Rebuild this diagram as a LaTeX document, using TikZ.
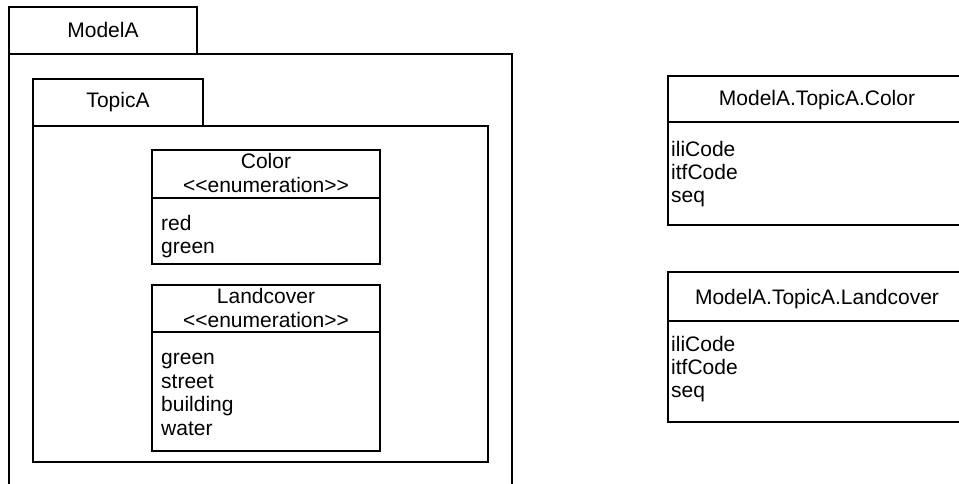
\documentclass[tikz,border=0pt]{standalone}
\usepackage{fontspec}
\setmainfont{Liberation Sans}
\begin{document}
\begin{tikzpicture}[x=1pt,y=-1pt,
  frame/.style={draw=black, line width=1.2pt},
  lbl/.style={inner sep=0pt, anchor=base, font=\fontsize{21}{24}\selectfont},
  item/.style={lbl, anchor=base west}]
\useasboundingbox (0,0) rectangle (959,484);
\clip (0,0) rectangle (959,484);
\fill[white] (0,0) rectangle (959,484);
% Package ModelA
\draw[frame] (9,54) rectangle (512,500);
\draw[frame] (9,7) rectangle (197,54);
\node[lbl] (modelA) at (103,38) {ModelA};
% Package TopicA
\draw[frame] (33,126) rectangle (488,462);
\draw[frame] (33,79) rectangle (203,126);
\node[lbl] (topicA) at (118,108) {TopicA};
% Color enumeration
\draw[frame] (152,150) rectangle (380,264);
\draw[frame] (152,198) -- (380,198);
\node[lbl] (colorT) at (266,169) {Color};
\node[lbl] (colorS) at (266,193) {<{}<enumeration>{}>};
\node[item] (colorRed) at (161,230) {red};
\node[item] (colorGreen) at (161,253) {green};
% Landcover enumeration
\draw[frame] (152,285) rectangle (380,451);
\draw[frame] (152,332) -- (380,332);
\node[lbl] (landT) at (266,303) {Landcover};
\node[lbl] (landS) at (266,327) {<{}<enumeration>{}>};
\node[item] (landGreen) at (161,364.5) {green};
\node[item] (landStreet) at (161,388) {street};
\node[item] (landBuilding) at (161,411.5) {building};
\node[item] (landWater) at (161,435) {water};
% Table ModelA.TopicA.Color
\draw[frame] (668,76) rectangle (966,225);
\draw[frame] (668,122) -- (966,122);
\node[lbl] (tabColorT) at (817,105.5) {ModelA.TopicA.Color};
\node[item] (tc1) at (671,156.5) {iliCode};
\node[item] (tc2) at (671,179.5) {itfCode};
\node[item] (tc3) at (671,202.5) {seq};
% Table ModelA.TopicA.Landcover
\draw[frame] (668,272) rectangle (966,422);
\draw[frame] (668,321) -- (966,321);
\node[lbl] (tabLandT) at (817,304.5) {ModelA.TopicA.Landcover};
\node[item] (tl1) at (671,351.5) {iliCode};
\node[item] (tl2) at (671,374.5) {itfCode};
\node[item] (tl3) at (671,397.5) {seq};
\end{tikzpicture}
\end{document}
